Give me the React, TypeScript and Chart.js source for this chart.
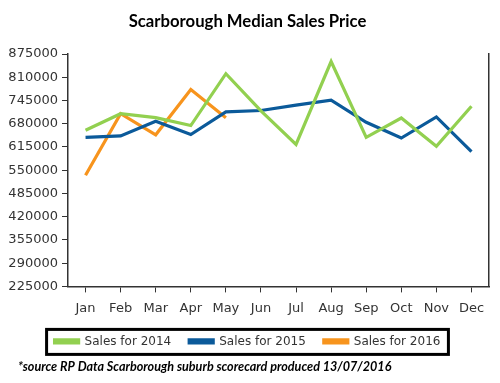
import React, { useEffect, useRef } from "react";
import { Chart, registerables } from "chart.js";

Chart.register(...registerables);

const months = ["Jan", "Feb", "Mar", "Apr", "May", "Jun", "Jul", "Aug", "Sep", "Oct", "Nov", "Dec"];
const sales2014 = [662000, 708000, 697000, 675000, 820000, 716000, 622000, 854000, 642000, 696000, 617000, 729000];
const sales2015 = [642000, 646000, 687000, 650000, 713000, 717000, 732000, 746000, 684000, 640000, 699000, 602000];
const sales2016 = [536000, 708000, 649000, 776000, 697000];
const yMin = 225000;
const yMax = 875000;
const yStep = 65000;
const footnoteText = "*source RP Data Scarborough suburb scorecard produced 13/07/2016";

const legendBorder = {
  id: "legendBorder",
  afterDraw(chart: any) {
    const lg = chart.legend;
    if (!lg || !lg.legendHitBoxes || !lg.legendHitBoxes.length) return;
    const boxes = lg.legendHitBoxes;
    let l = Infinity, r = -Infinity, t = Infinity, b = -Infinity;
    boxes.forEach((h: any) => {
      l = Math.min(l, h.left);
      r = Math.max(r, h.left + h.width);
      t = Math.min(t, h.top);
      b = Math.max(b, h.top + h.height);
    });
    const ctx = chart.ctx;
    ctx.save();
    ctx.strokeStyle = "#000";
    ctx.lineWidth = 3;
    const cy = (t + b) / 2;
    ctx.strokeRect(l - 8, cy - 12, r - l + 16, 25);
    ctx.restore();
  },
};

const footnote = {
  id: "footnote",
  afterDraw(chart: any) {
    const ctx = chart.ctx;
    ctx.save();
    ctx.fillStyle = "#000";
    ctx.font = "italic bold 12.6px Lato, 'Open Sans', sans-serif";
    ctx.textAlign = "left";
    ctx.textBaseline = "middle";
    ctx.fillText(footnoteText, 18, 367);
    ctx.restore();
  },
};

export default function App() {
  const ref = useRef<HTMLCanvasElement>(null);
  useEffect(() => {
    document.body.style.margin = "0";
    const font = "'DejaVu Sans', sans-serif";
    const chart = new Chart(ref.current!, {
      type: "line",
      data: {
        labels: months,
        datasets: [
          { label: "Sales for 2014", data: sales2014, borderColor: "#92D050", backgroundColor: "#92D050", borderWidth: 3.2, pointRadius: 0, tension: 0 },
          { label: "Sales for 2015", data: sales2015, borderColor: "#0B5A9A", backgroundColor: "#0B5A9A", borderWidth: 3.2, pointRadius: 0, tension: 0 },
          { label: "Sales for 2016", data: sales2016, borderColor: "#F7941D", backgroundColor: "#F7941D", borderWidth: 3.2, pointRadius: 0, tension: 0 },
        ],
      },
      options: {
        responsive: false,
        animation: false,
        layout: { padding: { left: 6, right: 11, top: 10, bottom: 25.6 } },
        plugins: {
          title: {
            display: true,
            text: "Scarborough Median Sales Price",
            color: "#000",
            font: { family: "Lato, 'Open Sans', sans-serif", size: 16.7, weight: "bold" },
            padding: { top: 2, bottom: 22 },
          },
          legend: {
            position: "bottom",
            labels: {
              color: "#333",
              font: { family: font, size: 12 },
              boxWidth: 24,
              boxHeight: 3,
              padding: 18,
            },
          },
          tooltip: { enabled: false },
        },
        scales: {
          x: {
            offset: true,
            afterFit: (s: any) => { s.height = 31; },
            grid: { display: true, drawOnChartArea: false, offset: false, color: "#333", tickLength: 6 },
            border: { display: true, color: "#333", width: 1.5 },
            ticks: { color: "#333", font: { family: font, size: 13 }, padding: 8, maxRotation: 0, autoSkip: false },
          },
          y: {
            min: yMin,
            max: yMax,
            afterFit: (s: any) => { s.width = 62; },
            grid: { display: true, drawOnChartArea: false, color: "#333", tickLength: 6 },
            border: { display: true, color: "#333", width: 1.5 },
            ticks: {
              stepSize: yStep,
              color: "#333",
              font: { family: font, size: 13 },
              padding: 4,
              callback: (v: any) => String(v),
            },
          },
          y2: {
            position: "right",
            min: yMin,
            max: yMax,
            afterFit: (s: any) => { s.width = 0; },
            grid: { display: false, drawTicks: false },
            border: { display: true, color: "#333", width: 1.5 },
            ticks: { display: false },
          },
        },
      },
      plugins: [legendBorder, footnote],
    } as any);
    return () => chart.destroy();
  }, []);
  return <canvas ref={ref} width={500} height={383} />;
}
